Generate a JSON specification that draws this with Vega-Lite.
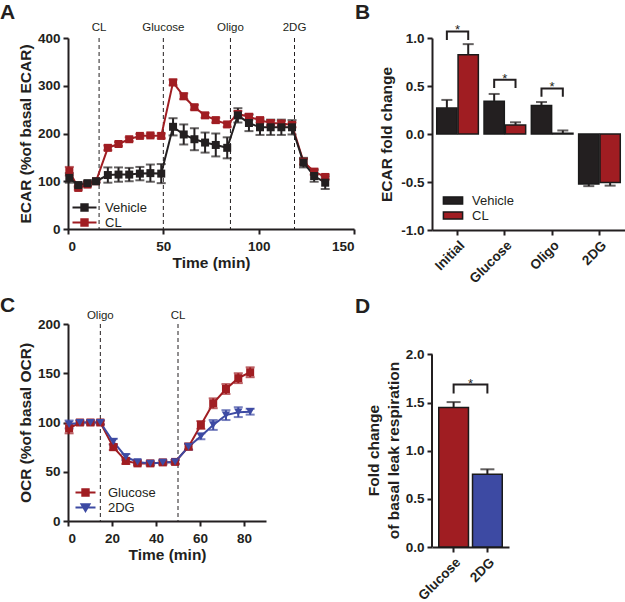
{
  "$schema": "https://vega.github.io/schema/vega-lite/v6.json",
  "background": "white",
  "padding": {"top": 2, "left": 0, "right": 0, "bottom": 0},
  "autosize": {"type": "pad"},
  "config": {
    "view": {"stroke": null},
    "font": "Liberation Sans",
    "axis": {
      "domainColor": "#231f20", "domainWidth": 2, "tickColor": "#231f20", "tickWidth": 2, "tickSize": 5,
      "labelFont": "Liberation Sans", "labelFontWeight": "bold", "labelFontSize": 13.5, "labelColor": "#231f20", "labelPadding": 3,
      "titleFont": "Liberation Sans", "titleFontSize": 15.5, "titleFontWeight": "bold", "titleColor": "#231f20", "grid": false
    },
    "legend": {"labelFont": "Liberation Sans", "labelFontSize": 13, "labelColor": "#231f20", "padding": 0, "titlePadding": 0},
    "title": {"font": "Liberation Sans", "fontSize": 21, "fontWeight": "bold", "anchor": "start", "frame": "group", "color": "#231f20"}
  },
  "datasets": {
    "A": [
      {"t": 0.7, "v": 121, "e": 9, "g": "CL"}, {"t": 5.4, "v": 86, "e": 4, "g": "CL"}, {"t": 10.2, "v": 93, "e": 4, "g": "CL"}, {"t": 14.7, "v": 100, "e": 2, "g": "CL"},
      {"t": 20.9, "v": 170, "e": 5, "g": "CL"}, {"t": 26.5, "v": 178, "e": 4, "g": "CL"}, {"t": 32.1, "v": 188, "e": 4, "g": "CL"}, {"t": 37.7, "v": 195, "e": 4, "g": "CL"},
      {"t": 43.2, "v": 196, "e": 4, "g": "CL"}, {"t": 48.9, "v": 195, "e": 5, "g": "CL"}, {"t": 55.1, "v": 307, "e": 6, "g": "CL"}, {"t": 60.7, "v": 278, "e": 6, "g": "CL"},
      {"t": 66.3, "v": 255, "e": 5, "g": "CL"}, {"t": 71.9, "v": 238, "e": 5, "g": "CL"}, {"t": 77.5, "v": 228, "e": 5, "g": "CL"}, {"t": 83.5, "v": 219, "e": 5, "g": "CL"},
      {"t": 89.1, "v": 241, "e": 6, "g": "CL"}, {"t": 94.9, "v": 235, "e": 6, "g": "CL"}, {"t": 100.7, "v": 228, "e": 5, "g": "CL"}, {"t": 106.3, "v": 222, "e": 5, "g": "CL"},
      {"t": 111.9, "v": 221, "e": 5, "g": "CL"}, {"t": 117.5, "v": 218, "e": 5, "g": "CL"}, {"t": 123.5, "v": 141, "e": 6, "g": "CL"}, {"t": 129.1, "v": 120, "e": 6, "g": "CL"},
      {"t": 134.9, "v": 109, "e": 5, "g": "CL"},
      {"t": 0.7, "v": 107, "e": 10, "g": "Vehicle"}, {"t": 5.4, "v": 92, "e": 5, "g": "Vehicle"}, {"t": 10.2, "v": 96, "e": 4, "g": "Vehicle"}, {"t": 14.7, "v": 100, "e": 3, "g": "Vehicle"},
      {"t": 20.9, "v": 113, "e": 16, "g": "Vehicle"}, {"t": 26.5, "v": 114, "e": 15, "g": "Vehicle"}, {"t": 32.1, "v": 114, "e": 14, "g": "Vehicle"}, {"t": 37.7, "v": 116, "e": 14, "g": "Vehicle"},
      {"t": 43.2, "v": 117, "e": 18, "g": "Vehicle"}, {"t": 48.9, "v": 116, "e": 20, "g": "Vehicle"}, {"t": 55.1, "v": 214, "e": 18, "g": "Vehicle"}, {"t": 60.7, "v": 198, "e": 21, "g": "Vehicle"},
      {"t": 66.3, "v": 188, "e": 23, "g": "Vehicle"}, {"t": 71.9, "v": 181, "e": 21, "g": "Vehicle"}, {"t": 77.5, "v": 176, "e": 24, "g": "Vehicle"}, {"t": 83.5, "v": 170, "e": 22, "g": "Vehicle"},
      {"t": 89.1, "v": 238, "e": 15, "g": "Vehicle"}, {"t": 94.9, "v": 222, "e": 17, "g": "Vehicle"}, {"t": 100.7, "v": 213, "e": 16, "g": "Vehicle"}, {"t": 106.3, "v": 213, "e": 16, "g": "Vehicle"},
      {"t": 111.9, "v": 213, "e": 16, "g": "Vehicle"}, {"t": 117.5, "v": 213, "e": 15, "g": "Vehicle"}, {"t": 123.5, "v": 139, "e": 10, "g": "Vehicle"}, {"t": 129.1, "v": 111, "e": 12, "g": "Vehicle"},
      {"t": 134.9, "v": 97, "e": 13, "g": "Vehicle"}
    ],
    "evA": [
      {"t": 16.3, "label": "CL"}, {"t": 50, "label": "Glucose"}, {"t": 85.2, "label": "Oligo"}, {"t": 118.8, "label": "2DG"}
    ],
    "C": [
      {"t": 0.5, "v": 94, "e": 5, "g": "Glucose"}, {"t": 5.4, "v": 100, "e": 2, "g": "Glucose"}, {"t": 10.2, "v": 100, "e": 2, "g": "Glucose"}, {"t": 14.7, "v": 100, "e": 2, "g": "Glucose"},
      {"t": 20.6, "v": 75, "e": 3, "g": "Glucose"}, {"t": 26.3, "v": 61, "e": 3, "g": "Glucose"}, {"t": 31.6, "v": 58.5, "e": 2, "g": "Glucose"}, {"t": 37.4, "v": 58.5, "e": 2, "g": "Glucose"},
      {"t": 43.1, "v": 59.5, "e": 2, "g": "Glucose"}, {"t": 48.7, "v": 60, "e": 2, "g": "Glucose"}, {"t": 54.8, "v": 75.5, "e": 3, "g": "Glucose"}, {"t": 60.4, "v": 97.5, "e": 4, "g": "Glucose"},
      {"t": 66, "v": 119.5, "e": 5, "g": "Glucose"}, {"t": 71.8, "v": 134, "e": 5, "g": "Glucose"}, {"t": 77.4, "v": 145, "e": 5, "g": "Glucose"}, {"t": 82.8, "v": 151, "e": 5, "g": "Glucose"},
      {"t": 0.5, "v": 98, "e": 4, "g": "2DG"}, {"t": 5.4, "v": 100, "e": 2, "g": "2DG"}, {"t": 10.2, "v": 100, "e": 2, "g": "2DG"}, {"t": 14.7, "v": 100, "e": 2, "g": "2DG"},
      {"t": 20.6, "v": 80.5, "e": 3, "g": "2DG"}, {"t": 26.3, "v": 65, "e": 3, "g": "2DG"}, {"t": 31.6, "v": 60, "e": 2, "g": "2DG"}, {"t": 37.4, "v": 58.5, "e": 2, "g": "2DG"},
      {"t": 43.1, "v": 59.5, "e": 2, "g": "2DG"}, {"t": 48.7, "v": 60, "e": 2, "g": "2DG"}, {"t": 54.8, "v": 75.5, "e": 3, "g": "2DG"}, {"t": 60.4, "v": 86, "e": 3, "g": "2DG"},
      {"t": 66, "v": 97.5, "e": 5, "g": "2DG"}, {"t": 71.8, "v": 107.5, "e": 5, "g": "2DG"}, {"t": 77.4, "v": 110.5, "e": 5, "g": "2DG"}, {"t": 82.8, "v": 111, "e": 3, "g": "2DG"}
    ],
    "evC": [
      {"t": 14.7, "label": "Oligo"}, {"t": 50, "label": "CL"}
    ],
    "B": [
      {"cat": "Initial", "g": "Vehicle", "v": 0.27, "top": 0.355}, {"cat": "Initial", "g": "CL", "v": 0.826, "top": 0.936},
      {"cat": "Glucose", "g": "Vehicle", "v": 0.342, "top": 0.417}, {"cat": "Glucose", "g": "CL", "v": 0.094, "top": 0.122},
      {"cat": "Oligo", "g": "Vehicle", "v": 0.297, "top": 0.333}, {"cat": "Oligo", "g": "CL", "v": 0.007, "top": 0.037},
      {"cat": "2DG", "g": "Vehicle", "v": -0.52, "top": -0.543}, {"cat": "2DG", "g": "CL", "v": -0.505, "top": -0.538}
    ],
    "brB": [
      {"id": "i", "cat": "Initial", "g": "Vehicle", "y": 0.98, "ord": 1}, {"id": "i", "cat": "Initial", "g": "Vehicle", "y": 1.069, "ord": 2},
      {"id": "i", "cat": "Initial", "g": "CL", "y": 1.069, "ord": 3}, {"id": "i", "cat": "Initial", "g": "CL", "y": 0.98, "ord": 4},
      {"id": "g", "cat": "Glucose", "g": "Vehicle", "y": 0.48, "ord": 1}, {"id": "g", "cat": "Glucose", "g": "Vehicle", "y": 0.566, "ord": 2},
      {"id": "g", "cat": "Glucose", "g": "CL", "y": 0.566, "ord": 3}, {"id": "g", "cat": "Glucose", "g": "CL", "y": 0.48, "ord": 4},
      {"id": "o", "cat": "Oligo", "g": "Vehicle", "y": 0.389, "ord": 1}, {"id": "o", "cat": "Oligo", "g": "Vehicle", "y": 0.475, "ord": 2},
      {"id": "o", "cat": "Oligo", "g": "CL", "y": 0.475, "ord": 3}, {"id": "o", "cat": "Oligo", "g": "CL", "y": 0.389, "ord": 4}
    ],
    "starB": [
      {"cat": "Initial", "y": 1.069, "s": "*"}, {"cat": "Glucose", "y": 0.566, "s": "*"}, {"cat": "Oligo", "y": 0.475, "s": "*"}
    ],
    "D": [
      {"cat": "Glucose", "v": 1.45, "top": 1.505}, {"cat": "2DG", "v": 0.755, "top": 0.807}
    ],
    "brD": [
      {"cat": "Glucose", "y": 1.594, "ord": 1}, {"cat": "Glucose", "y": 1.687, "ord": 2},
      {"cat": "2DG", "y": 1.687, "ord": 3}, {"cat": "2DG", "y": 1.594, "ord": 4}
    ],
    "starD": [
      {"pos": 0.5, "y": 1.687, "s": "*"}
    ],
    "axD": [
      {"pos": 0, "y0": 0, "y1": 2}
    ]
  },
  "columns": 2,
  "spacing": {"row": 63, "column": 78},
  "bounds": "flush",
  "align": "all",
  "resolve": {"scale": {"color": "independent", "fill": "independent", "shape": "independent"}, "legend": {"color": "independent", "fill": "independent", "shape": "independent"}},
  "concat": [
    {
      "width": 286, "height": 191,
      "title": {"text": "A", "dx": -68, "offset": -1},
      "encoding": {
        "x": {"field": "t", "type": "quantitative", "scale": {"domain": [0, 150]},
              "axis": {"values": [0, 50, 100, 150], "title": "Time (min)", "labelPadding": 5, "titlePadding": 3}}
      },
      "layer": [
        {"data": {"name": "evA"}, "mark": {"type": "rule", "strokeDash": [4, 3], "strokeWidth": 1, "color": "#231f20"}, "encoding": {}},
        {"data": {"name": "evA"}, "mark": {"type": "text", "baseline": "alphabetic", "dy": -7, "fontSize": 11.5, "color": "#231f20"},
         "encoding": {"y": {"datum": 400, "type": "quantitative"}, "text": {"field": "label"}}},
        {"data": {"name": "A"}, "mark": {"type": "errorbar", "ticks": {"size": 9, "thickness": 2}, "rule": {"strokeWidth": 2}},
         "encoding": {
           "y": {"field": "v", "type": "quantitative", "scale": {"domain": [0, 400]}, "axis": {"values": [0, 100, 200, 300, 400], "title": "ECAR (%of basal ECAR)", "titlePadding": 4}},
           "yError": {"field": "e"},
           "color": {"field": "g", "type": "nominal", "scale": {"domain": ["Vehicle", "CL"], "range": ["#231f20", "#a01d22"]},
             "legend": {"orient": "none", "legendX": 10, "legendY": 163, "title": null, "symbolType": "M-3,0H3M-0.8,-0.8H0.8V0.8H-0.8Z", "symbolSize": 64, "symbolStrokeWidth": 2, "labelOffset": 14, "rowPadding": 0,
               "encode": {"symbols": {"update": {"fill": {"signal": "datum.value === 'CL' ? '#a01d22' : '#231f20'"}, "stroke": {"signal": "datum.value === 'CL' ? '#a01d22' : '#231f20'"}, "shape": {"value": "M-3,0H3M-0.8,-0.8H0.8V0.8H-0.8Z"}, "strokeWidth": {"value": 2}, "opacity": {"value": 1}, "fillOpacity": {"value": 1}, "strokeOpacity": {"value": 1}}}}}}
         }},
        {"data": {"name": "A"}, "mark": {"type": "line", "strokeWidth": 2},
         "encoding": {
           "y": {"field": "v", "type": "quantitative"},
           "color": {"field": "g", "type": "nominal", "scale": {"domain": ["Vehicle", "CL"], "range": ["#231f20", "#a01d22"]},
             "legend": {"orient": "none", "legendX": 10, "legendY": 163, "title": null, "symbolType": "M-3,0H3M-0.8,-0.8H0.8V0.8H-0.8Z", "symbolSize": 64, "symbolStrokeWidth": 2, "labelOffset": 14, "rowPadding": 0,
               "encode": {"symbols": {"update": {"fill": {"signal": "datum.value === 'CL' ? '#a01d22' : '#231f20'"}, "stroke": {"signal": "datum.value === 'CL' ? '#a01d22' : '#231f20'"}, "shape": {"value": "M-3,0H3M-0.8,-0.8H0.8V0.8H-0.8Z"}, "strokeWidth": {"value": 2}, "opacity": {"value": 1}, "fillOpacity": {"value": 1}, "strokeOpacity": {"value": 1}}}}}}
         }},
        {"data": {"name": "A"}, "mark": {"type": "point", "shape": "square", "filled": true, "size": 64, "opacity": 1},
         "encoding": {
           "y": {"field": "v", "type": "quantitative"},
           "color": {"field": "g", "type": "nominal", "scale": {"domain": ["Vehicle", "CL"], "range": ["#231f20", "#a01d22"]},
             "legend": {"orient": "none", "legendX": 10, "legendY": 163, "title": null, "symbolType": "M-3,0H3M-0.8,-0.8H0.8V0.8H-0.8Z", "symbolSize": 64, "symbolStrokeWidth": 2, "labelOffset": 14, "rowPadding": 0,
               "encode": {"symbols": {"update": {"fill": {"signal": "datum.value === 'CL' ? '#a01d22' : '#231f20'"}, "stroke": {"signal": "datum.value === 'CL' ? '#a01d22' : '#231f20'"}, "shape": {"value": "M-3,0H3M-0.8,-0.8H0.8V0.8H-0.8Z"}, "strokeWidth": {"value": 2}, "opacity": {"value": 1}, "fillOpacity": {"value": 1}, "strokeOpacity": {"value": 1}}}}}}
         }}
      ]
    },
    {
      "width": 193, "height": 192,
      "title": {"text": "B", "dx": -77, "offset": 1},
      "encoding": {
        "x": {"field": "cat", "type": "nominal", "sort": ["Initial", "Glucose", "Oligo", "2DG"], "scale": {"paddingInner": 0.12, "paddingOuter": 0.1},
              "axis": {"title": null, "labelAngle": -45, "labelPadding": 3}}
      },
      "layer": [
        {"mark": {"type": "rule", "color": "#231f20", "strokeWidth": 2}, "encoding": {"y": {"datum": 0, "type": "quantitative"}, "x": null}},
        {"data": {"name": "B"}, "mark": {"type": "bar", "stroke": "#1a1a1a", "strokeWidth": 1.5},
         "encoding": {
           "xOffset": {"field": "g", "type": "nominal", "sort": ["Vehicle", "CL"], "scale": {"paddingInner": 0.05}},
           "y": {"field": "v", "type": "quantitative", "scale": {"domain": [-1, 1]},
                 "axis": {"values": [-1, -0.5, 0, 0.5, 1], "labelExpr": "datum.value < 0 ? '-' + format(-datum.value, '.1f') : format(datum.value, '.1f')", "title": "ECAR fold change", "titlePadding": 6}},
           "fill": {"field": "g", "type": "nominal", "scale": {"domain": ["Vehicle", "CL"], "range": ["#231f20", "#a01d22"]},
             "legend": {"orient": "none", "legendX": 14.5, "legendY": 156, "title": null, "symbolType": "M-2.4,-0.9H2.4V0.9H-2.4Z", "symbolSize": 64, "symbolStrokeWidth": 1.5, "labelOffset": 12.5, "rowPadding": 0,
               "encode": {"symbols": {"update": {"fill": {"signal": "datum.value === 'CL' ? '#a01d22' : '#231f20'"}, "stroke": {"value": "#1a1a1a"}, "opacity": {"value": 1}}}}}}
         }},
        {"data": {"name": "B"}, "mark": {"type": "rule", "color": "#231f20", "strokeWidth": 2},
         "encoding": {"xOffset": {"field": "g", "type": "nominal", "sort": ["Vehicle", "CL"]}, "y": {"field": "v", "type": "quantitative"}, "y2": {"field": "top"}}},
        {"data": {"name": "B"}, "mark": {"type": "tick", "color": "#231f20", "thickness": 2, "size": 11},
         "encoding": {"xOffset": {"field": "g", "type": "nominal", "sort": ["Vehicle", "CL"]}, "y": {"field": "top", "type": "quantitative"}}},
        {"data": {"name": "brB"}, "mark": {"type": "line", "color": "#231f20", "strokeWidth": 2},
         "encoding": {"xOffset": {"field": "g", "type": "nominal", "sort": ["Vehicle", "CL"]}, "y": {"field": "y", "type": "quantitative"}, "detail": {"field": "id"}, "order": {"field": "ord"}}},
        {"data": {"name": "starB"}, "mark": {"type": "text", "fontSize": 13, "baseline": "alphabetic", "dy": 3, "color": "#231f20"},
         "encoding": {"y": {"field": "y", "type": "quantitative"}, "text": {"field": "s"}}}
      ]
    },
    {
      "width": 198, "height": 197,
      "title": {"text": "C", "dx": -68, "offset": -6},
      "encoding": {
        "x": {"field": "t", "type": "quantitative", "scale": {"domain": [0, 90]},
              "axis": {"values": [0, 20, 40, 60, 80], "title": "Time (min)", "labelPadding": 5, "titlePadding": 3}}
      },
      "layer": [
        {"data": {"name": "evC"}, "mark": {"type": "rule", "strokeDash": [4, 3], "strokeWidth": 1, "color": "#231f20"}, "encoding": {}},
        {"data": {"name": "evC"}, "mark": {"type": "text", "baseline": "alphabetic", "dy": -5, "fontSize": 11.5, "color": "#231f20"},
         "encoding": {"y": {"datum": 200, "type": "quantitative"}, "text": {"field": "label"}}},
        {"data": {"name": "C"}, "mark": {"type": "errorbar", "ticks": {"size": 9, "thickness": 2}, "rule": {"strokeWidth": 2}},
         "encoding": {
           "y": {"field": "v", "type": "quantitative", "scale": {"domain": [0, 200]}, "axis": {"values": [0, 50, 100, 150, 200], "title": "OCR (%of basal OCR)", "titlePadding": 4}},
           "yError": {"field": "e"},
           "color": {"field": "g", "type": "nominal", "scale": {"domain": ["Glucose", "2DG"], "range": ["#a01d22", "#3d4aa3"]},
             "legend": {"orient": "none", "legendX": 11, "legendY": 162, "title": null, "symbolType": "M-2.5,0H2.5M-0.8,-0.8H0.8V0.8H-0.8Z", "symbolSize": 64, "symbolStrokeWidth": 2, "labelOffset": 16, "rowPadding": 0,
               "encode": {"symbols": {"update": {
                 "fill": {"signal": "datum.value === 'Glucose' ? '#a01d22' : '#3d4aa3'"},
                 "stroke": {"signal": "datum.value === 'Glucose' ? '#a01d22' : '#3d4aa3'"},
                 "shape": {"signal": "datum.value === 'Glucose' ? 'M-2.5,0H2.5M-0.8,-0.8H0.8V0.8H-0.8Z' : 'M-2.5,0H2.5M-1,-0.8H1L0,0.9Z'"},
                 "strokeWidth": {"value": 2}, "opacity": {"value": 1}, "fillOpacity": {"value": 1}, "strokeOpacity": {"value": 1}}}}}}
         }},
        {"data": {"name": "C"}, "mark": {"type": "line", "strokeWidth": 2},
         "encoding": {
           "y": {"field": "v", "type": "quantitative"},
           "color": {"field": "g", "type": "nominal", "scale": {"domain": ["Glucose", "2DG"], "range": ["#a01d22", "#3d4aa3"]},
             "legend": {"orient": "none", "legendX": 11, "legendY": 162, "title": null, "symbolType": "M-2.5,0H2.5M-0.8,-0.8H0.8V0.8H-0.8Z", "symbolSize": 64, "symbolStrokeWidth": 2, "labelOffset": 16, "rowPadding": 0,
               "encode": {"symbols": {"update": {
                 "fill": {"signal": "datum.value === 'Glucose' ? '#a01d22' : '#3d4aa3'"},
                 "stroke": {"signal": "datum.value === 'Glucose' ? '#a01d22' : '#3d4aa3'"},
                 "shape": {"signal": "datum.value === 'Glucose' ? 'M-2.5,0H2.5M-0.8,-0.8H0.8V0.8H-0.8Z' : 'M-2.5,0H2.5M-1,-0.8H1L0,0.9Z'"},
                 "strokeWidth": {"value": 2}, "opacity": {"value": 1}, "fillOpacity": {"value": 1}, "strokeOpacity": {"value": 1}}}}}}
         }},
        {"data": {"name": "C"}, "transform": [{"filter": "datum.g === 'Glucose'"}],
         "mark": {"type": "point", "shape": "square", "filled": true, "size": 64, "opacity": 1},
         "encoding": {
           "y": {"field": "v", "type": "quantitative"},
           "color": {"field": "g", "type": "nominal", "scale": {"domain": ["Glucose", "2DG"], "range": ["#a01d22", "#3d4aa3"]},
             "legend": {"orient": "none", "legendX": 11, "legendY": 162, "title": null, "symbolType": "M-2.5,0H2.5M-0.8,-0.8H0.8V0.8H-0.8Z", "symbolSize": 64, "symbolStrokeWidth": 2, "labelOffset": 16, "rowPadding": 0,
               "encode": {"symbols": {"update": {
                 "fill": {"signal": "datum.value === 'Glucose' ? '#a01d22' : '#3d4aa3'"},
                 "stroke": {"signal": "datum.value === 'Glucose' ? '#a01d22' : '#3d4aa3'"},
                 "shape": {"signal": "datum.value === 'Glucose' ? 'M-2.5,0H2.5M-0.8,-0.8H0.8V0.8H-0.8Z' : 'M-2.5,0H2.5M-1,-0.8H1L0,0.9Z'"},
                 "strokeWidth": {"value": 2}, "opacity": {"value": 1}, "fillOpacity": {"value": 1}, "strokeOpacity": {"value": 1}}}}}}
         }},
        {"data": {"name": "C"}, "transform": [{"filter": "datum.g === '2DG'"}],
         "mark": {"type": "point", "shape": "triangle-down", "filled": true, "size": 70, "opacity": 1},
         "encoding": {
           "y": {"field": "v", "type": "quantitative"},
           "color": {"field": "g", "type": "nominal", "scale": {"domain": ["Glucose", "2DG"], "range": ["#a01d22", "#3d4aa3"]},
             "legend": {"orient": "none", "legendX": 11, "legendY": 162, "title": null, "symbolType": "M-2.5,0H2.5M-0.8,-0.8H0.8V0.8H-0.8Z", "symbolSize": 64, "symbolStrokeWidth": 2, "labelOffset": 16, "rowPadding": 0,
               "encode": {"symbols": {"update": {
                 "fill": {"signal": "datum.value === 'Glucose' ? '#a01d22' : '#3d4aa3'"},
                 "stroke": {"signal": "datum.value === 'Glucose' ? '#a01d22' : '#3d4aa3'"},
                 "shape": {"signal": "datum.value === 'Glucose' ? 'M-2.5,0H2.5M-0.8,-0.8H0.8V0.8H-0.8Z' : 'M-2.5,0H2.5M-1,-0.8H1L0,0.9Z'"},
                 "strokeWidth": {"value": 2}, "opacity": {"value": 1}, "fillOpacity": {"value": 1}, "strokeOpacity": {"value": 1}}}}}}
         }}
      ]
    },
    {
      "width": 77, "height": 223,
      "title": {"text": "D", "dx": -77, "offset": 7},
      "layer": [
        {
          "encoding": {
            "x": {"field": "cat", "type": "nominal", "sort": ["Glucose", "2DG"], "scale": {"paddingInner": 0.12, "paddingOuter": 0.2}, "axis": {"title": null, "labelAngle": -45, "labelPadding": 3}}
          },
          "layer": [
            {"data": {"name": "D"}, "mark": {"type": "bar", "stroke": "#1a1a1a", "strokeWidth": 1.5},
             "encoding": {
               "y": {"field": "v", "type": "quantitative", "scale": {"domain": [0, 2.316], "nice": false},
                     "axis": {"values": [0, 0.5, 1, 1.5, 2], "format": ".1f", "domain": false, "title": ["Fold change", "of basal leak respiration"], "titlePadding": 4, "titleLineHeight": 20, "titleY": 126}},
               "fill": {"field": "cat", "type": "nominal", "scale": {"domain": ["Glucose", "2DG"], "range": ["#a01d22", "#3d4aa3"]}, "legend": null}
             }},
            {"data": {"name": "D"}, "mark": {"type": "rule", "color": "#231f20", "strokeWidth": 2},
             "encoding": {"y": {"field": "v", "type": "quantitative"}, "y2": {"field": "top"}}},
            {"data": {"name": "D"}, "mark": {"type": "tick", "color": "#231f20", "thickness": 2, "size": 14},
             "encoding": {"y": {"field": "top", "type": "quantitative"}}},
            {"data": {"name": "brD"}, "mark": {"type": "line", "color": "#231f20", "strokeWidth": 2},
             "encoding": {"y": {"field": "y", "type": "quantitative"}, "order": {"field": "ord"}}}
          ]
        },
        {
          "encoding": {
            "x": {"field": "pos", "type": "quantitative", "scale": {"domain": [0, 1]}, "axis": null}
          },
          "layer": [
            {"data": {"name": "axD"}, "mark": {"type": "rule", "color": "#231f20", "strokeWidth": 2},
             "encoding": {"y": {"field": "y0", "type": "quantitative"}, "y2": {"field": "y1"}}},
            {"data": {"name": "starD"}, "mark": {"type": "text", "fontSize": 13, "baseline": "alphabetic", "dy": 3, "color": "#231f20"},
             "encoding": {"y": {"field": "y", "type": "quantitative"}, "text": {"field": "s"}}}
          ]
        }
      ],
      "resolve": {"scale": {"x": "independent"}, "axis": {"x": "independent"}}
    }
  ]
}
